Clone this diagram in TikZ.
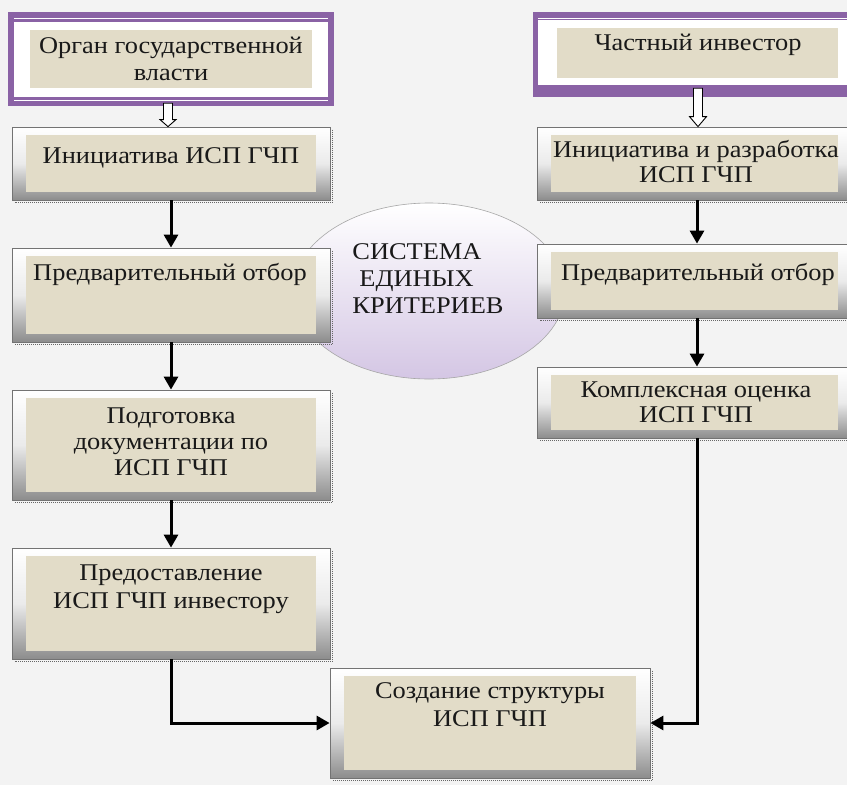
\documentclass[tikz,border=0pt]{standalone}
\usepackage{fontspec}
\setmainfont[FakeStretch=1.1]{Liberation Serif}
\usetikzlibrary{shapes.geometric,arrows.meta,calc}
\definecolor{bg}{RGB}{243,243,243}
\definecolor{beige}{RGB}{226,220,200}
\definecolor{purp}{RGB}{138,98,165}
\definecolor{lav}{RGB}{212,198,228}
\tikzset{
 frame/.style={rectangle, draw=black!55, line width=0.8pt, top color=white, bottom color=black!45, middle color=black!8, inner sep=0pt},
 pbox/.style={rectangle, fill=purp, inner sep=0pt},
 txt/.style={font=\fontsize{24}{26}\selectfont, align=center, inner sep=0pt, text=black!90},
 arr/.style={line width=3pt, -{Triangle[length=13pt,width=14pt]}},
 hollow/.style={draw=black, line width=0.9pt, fill=white, line join=miter},
 shd/.style={black!60, densely dotted, line width=1pt},
}
\begin{document}
\begin{tikzpicture}[x=1pt,y=-1pt]
\clip (0,0) rectangle (847,785);
\fill[bg] (0,0) rectangle (847,785);
% ellipse
\node[ellipse, minimum width=272pt, minimum height=176pt, top color=white, bottom color=lav, draw=black!35, line width=0.6pt] (sys) at (429,291) {};
\node[txt, anchor=base, align=left, font=\fontsize{24}{27}\selectfont] (systxt) at (428,313) {СИСТЕМА\\\hspace*{7pt}ЕДИНЫХ\\КРИТЕРИЕВ};
% purple boxes
\node[pbox, minimum width=326pt, minimum height=94pt] (gov) at (171,59) {};
\fill[white] (14,22) rectangle (328,97);
\draw[white, line width=1.2pt] (14,18.5) -- (328,18.5);
\draw[white, line width=1.2pt] (14,100.5) -- (328,100.5);
\fill[beige] (30,30) rectangle (312,88);
\node[txt, anchor=base, font=\fontsize{24}{27}\selectfont] (govtxt) at (171,80) {Орган государственной\\власти};
\node[pbox, minimum width=319pt, minimum height=85pt] (inv) at (692.5,54.5) {};
\fill[white] (538,20) rectangle (852,85);
\draw[white, line width=1.2pt] (538,18.5) -- (852,18.5);
\fill[beige] (557,28) rectangle (838,78);
\node[txt, anchor=base] (invtxt) at (698,50) {Частный инвестор};
% frames
\node[frame, minimum width=318pt, minimum height=73pt] (L1) at (171,163.5) {};
\node[frame, minimum width=318pt, minimum height=94pt] (L2) at (171,295) {};
\node[frame, minimum width=318pt, minimum height=110pt] (L3) at (171,445) {};
\node[frame, minimum width=318pt, minimum height=111pt] (L4) at (171,603.5) {};
\node[frame, minimum width=315pt, minimum height=73pt] (R1) at (694.5,163.5) {};
\node[frame, minimum width=315pt, minimum height=74pt] (R2) at (694.5,281) {};
\node[frame, minimum width=315pt, minimum height=71pt] (R3) at (694.5,402.5) {};
\node[frame, minimum width=320pt, minimum height=110pt] (F) at (490,723) {};
\foreach \n in {L1,L2,L3,L4,R1,R2,R3,F} {
 \draw[shd] ([xshift=1.8pt,yshift=-3pt]\n.north east) -- ([xshift=1.8pt,yshift=-1.8pt]\n.south east) -- ([xshift=3pt,yshift=-1.8pt]\n.south west);
 \fill[beige] ([shift={(14pt,-8pt)}]\n.north west) rectangle ([shift={(-14pt,8pt)}]\n.south east);
}
% texts
\node[txt, anchor=base] (t1) at (171,163) {Инициатива ИСП ГЧП};
\node[txt, anchor=base] (t2) at (170,280) {Предварительный отбор};
\node[txt, anchor=base] (t3) at (171,475) {Подготовка\\документации по\\ИСП ГЧП};
\node[txt, anchor=base, font=\fontsize{24}{28}\selectfont] (t4) at (171,608) {Предоставление\\ИСП ГЧП инвестору};
\node[txt, anchor=base, font=\fontsize{24}{25}\selectfont] (t5) at (696,182) {Инициатива и разработка\\ИСП ГЧП};
\node[txt, anchor=base] (t6) at (698,280) {Предварительный отбор};
\node[txt, anchor=base, font=\fontsize{24}{25}\selectfont] (t7) at (696,422) {Комплексная оценка\\ИСП ГЧП};
\node[txt, anchor=base, font=\fontsize{24}{28}\selectfont] (t8) at (490,726) {Создание структуры\\ИСП ГЧП};
% hollow arrows
\draw[hollow] ($(L1.north |- gov.south)+(-7.5pt,3pt)$) -- ($(L1.north)+(-7.5pt,7pt)$) -- ($(L1.north)+(-11pt,7pt)$) -- ($(L1.north)+(-3pt,0pt)$) -- ($(L1.north)+(5pt,7pt)$) -- ($(L1.north)+(1.5pt,7pt)$) -- ($(L1.north |- gov.south)+(1.5pt,3pt)$) -- cycle;
\draw[hollow] ($(R1.north |- inv.south)+(-1pt,9pt)$) -- ($(R1.north)+(-1pt,10pt)$) -- ($(R1.north)+(-5pt,10pt)$) -- ($(R1.north)+(3.5pt,0pt)$) -- ($(R1.north)+(12pt,10pt)$) -- ($(R1.north)+(8pt,10pt)$) -- ($(R1.north |- inv.south)+(8pt,9pt)$) -- cycle;
% black arrows
\draw[arr] (L1.south) -- (L2.north);
\draw[arr] (L2.south) -- (L3.north);
\draw[arr] (L3.south) -- (L4.north);
\draw[arr] ([xshift=2.5pt]R1.south) -- ([xshift=2.5pt]R2.north);
\draw[arr] ([xshift=2.5pt]R2.south) -- ([xshift=2.5pt]R3.north);
\draw[arr, line join=miter] (L4.south) |- (F.west);
\draw[arr, line join=miter] ([xshift=2.5pt]R3.south) |- (F.east);
\end{tikzpicture}
\end{document}
